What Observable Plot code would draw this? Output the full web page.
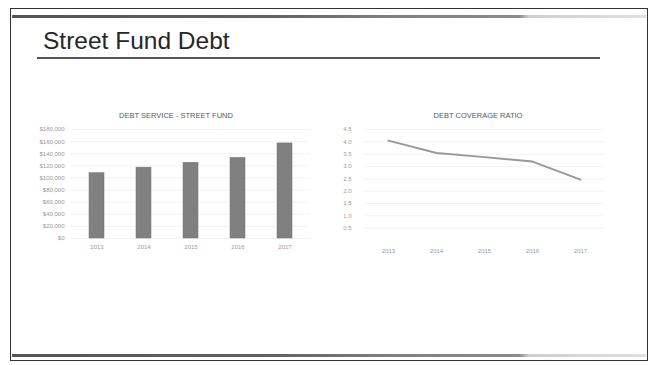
<!DOCTYPE html>
<html><head><meta charset="utf-8">
<script src="https://cdn.jsdelivr.net/npm/d3@7"></script>
<script src="https://cdn.jsdelivr.net/npm/@observablehq/plot@0.6"></script>
<style>
body{margin:0;background:#fff;width:655px;height:365px;overflow:hidden;position:relative;font-family:"Liberation Sans",Arial,sans-serif}
.frame{position:absolute;left:10px;top:8px;width:638px;height:353px;border:1.5px solid #333;box-sizing:border-box}
.gbar{position:absolute;left:12px;width:634px;height:3px;background:linear-gradient(to right,#555 0%,#606060 40%,#808080 60%,#8c8c8c 80%,#cfcfcf 81.5%,#e0e0e0 100%)}
.title{position:absolute;left:43px;top:27px;font-size:24.5px;color:#262626;white-space:nowrap}
.rule{position:absolute;left:37px;top:57px;width:563px;height:1.5px;background:#555}
.ctitle{position:absolute;top:111px;font-size:7.5px;color:#5a5a5a;white-space:nowrap;transform:translateX(-50%)}
.chart{position:absolute}
</style></head>
<body>
<div class="frame"></div>
<div class="gbar" style="top:15px"></div>
<div class="gbar" style="top:354px"></div>
<div class="title">Street Fund Debt</div>
<div class="rule"></div>
<div class="ctitle" style="left:176px">DEBT SERVICE - STREET FUND</div>
<div class="ctitle" style="left:478px">DEBT COVERAGE RATIO</div>
<div class="chart" id="left" style="left:30px;top:122px"></div>
<div class="chart" id="right" style="left:330px;top:122px"></div>
<script>
const years = ["2013", "2014", "2015", "2016", "2017"];
const debtService = [108000, 117000, 125000, 133000, 157000];
const coverageRatio = [4.05, 3.55, 3.38, 3.2, 2.47];
const serviceTicks = [0, 20000, 40000, 60000, 80000, 100000, 120000, 140000, 160000, 180000];
const ratioTicks = [0.5, 1.0, 1.5, 2.0, 2.5, 3.0, 3.5, 4.0, 4.5];

const serviceData = years.map((y, i) => ({year: y, value: debtService[i]}));
const ratioData = years.map((y, i) => ({year: y, value: coverageRatio[i]}));

const leftPlot = Plot.plot({
  width: 280, height: 130,
  marginLeft: 40, marginRight: 0, marginTop: 7, marginBottom: 14,
  style: {fontSize: "6px", color: "#9a9a9a", background: "transparent", fontFamily: "Liberation Sans, Arial, sans-serif"},
  x: {type: "band", domain: years, paddingInner: 0.684, paddingOuter: 0.37, label: null, tickSize: 0, tickPadding: 6},
  y: {domain: [0, 180000], ticks: serviceTicks, tickFormat: d => "$" + d3.format(",")(d), label: null, tickSize: 0, tickPadding: 6},
  marks: [
    Plot.ruleY(serviceTicks, {stroke: "#f3f3f3"}),
    Plot.barY(serviceData, {x: "year", y: "value", fill: "#808080", stroke: "#737373", strokeWidth: 0.5})
  ]
});
document.getElementById("left").appendChild(leftPlot);

const rightPlot = Plot.plot({
  width: 280, height: 132,
  marginLeft: 34, marginRight: 6, marginTop: 7, marginBottom: 14,
  style: {fontSize: "6px", color: "#9a9a9a", background: "transparent", fontFamily: "Liberation Sans, Arial, sans-serif"},
  x: {type: "point", domain: years, padding: 0.5, label: null, tickSize: 0, tickPadding: 8},
  y: {domain: [0, 4.5], ticks: ratioTicks, tickFormat: d3.format(".1f"), label: null, tickSize: 0, tickPadding: 13},
  marks: [
    Plot.ruleY(ratioTicks, {stroke: "#f3f3f3"}),
    Plot.line(ratioData, {x: "year", y: "value", stroke: "#999", strokeWidth: 2})
  ]
});
document.getElementById("right").appendChild(rightPlot);
</script>
</body></html>
